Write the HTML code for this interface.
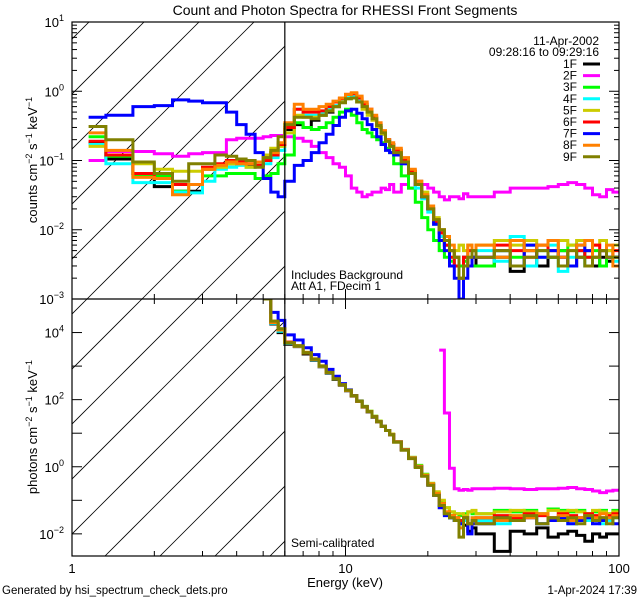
<!DOCTYPE html>
<html><head><meta charset="utf-8"><style>
html,body{margin:0;padding:0;background:#fff;}
svg{display:block;font-family:"Liberation Sans",sans-serif;}
</style></head><body>
<svg id="chart" width="640" height="600" viewBox="0 0 640 600" xmlns="http://www.w3.org/2000/svg">
<defs>
<clipPath id="clipTop"><rect x="72" y="22" width="547" height="277"/></clipPath>
<clipPath id="clipBot"><rect x="72" y="299" width="547" height="257"/></clipPath>
<clipPath id="hatchTop"><rect x="72" y="22" width="213" height="277"/></clipPath>
<clipPath id="hatchBot"><rect x="72" y="299" width="213" height="257"/></clipPath>
</defs>
<text x="345" y="15" text-anchor="middle" font-size="14">Count and Photon Spectra for RHESSI Front Segments</text>
<g id="layer"></g>
<text x="345" y="587" text-anchor="middle" font-size="13">Energy (keV)</text>
<text x="2" y="594" font-size="11.5">Generated by hsi_spectrum_check_dets.pro</text>
<text x="637" y="594" text-anchor="end" font-size="11.5">1-Apr-2024 17:39</text>
<text transform="translate(37,160) rotate(-90)" text-anchor="middle" font-size="13">counts cm<tspan dy="-5" font-size="9">−2</tspan><tspan dy="5"> s</tspan><tspan dy="-5" font-size="9">−1</tspan><tspan dy="5"> keV</tspan><tspan dy="-5" font-size="9">−1</tspan></text>
<text transform="translate(37,427) rotate(-90)" text-anchor="middle" font-size="13">photons cm<tspan dy="-5" font-size="9">−2</tspan><tspan dy="5"> s</tspan><tspan dy="-5" font-size="9">−1</tspan><tspan dy="5"> keV</tspan><tspan dy="-5" font-size="9">−1</tspan></text>
<text x="599" y="45" text-anchor="end" font-size="12">11-Apr-2002</text>
<text x="599" y="56" text-anchor="end" font-size="12">09:28:16 to 09:29:16</text>
<text x="291" y="279" font-size="12">Includes Background</text>
<text x="291" y="290" font-size="12">Att A1, FDecim 1</text>
<text x="291" y="547" font-size="12">Semi-calibrated</text>
</svg>
<script>
// ---- data ----
const energyEdges = [1.15,1.33,1.67,2,2.33,2.67,3,3.33,3.67,4,4.33,4.67,5,5.33,5.67,6,
 6.5,7,7.5,8,8.5,9,9.5,10,10.5,11,11.5,12,12.5,13,13.5,14,14.5,15,
 16,17,18,19,20,21,22,23,24,25,26,27,28,29,30,
 35,40,45,50,55,60,65,70,75,80,85,90,95,100];
const detectorNames = ["1F","2F","3F","4F","5F","6F","7F","8F","9F"];
const detectorColors = ["#000000","#ff00ff","#00ff00","#00ffff","#cccc00","#ff0000","#0000ff","#ff8000","#808000"];
const countsLow = [
 [.18,.105,.065,.042,.036,.036,.075,.085,.09,.088,.085,.085,.1,.13,.17],
 [.1,.135,.135,.125,.115,.125,.13,.13,.2,.21,.21,.21,.22,.23,.23],
 [.22,.115,.06,.06,.036,.045,.06,.06,.065,.065,.065,.055,.06,.065,.09],
 [.17,.09,.048,.048,.035,.034,.05,.075,.08,.085,.08,.082,.09,.11,.14],
 [.16,.12,.09,.075,.07,.07,.075,.08,.09,.09,.08,.085,.12,.15,.16],
 [.19,.12,.065,.055,.045,.045,.08,.09,.1,.095,.09,.085,.1,.12,.17],
 [.42,.45,.6,.62,.75,.72,.68,.68,.5,.33,.24,.13,.055,.035,.03],
 [.25,.14,.057,.055,.032,.045,.075,.085,.095,.09,.09,.095,.11,.13,.18],
 [.31,.2,.095,.065,.05,.09,.09,.12,.115,.105,.1,.08,.11,.14,.22]];
const countsMid = [
 [.28,.33,.3,.38,.45,.5,.6,.7,.8,.8,.7,.6,.5,.4,.3,.25,.2,.17],
 [.22,.21,.19,.16,.13,.11,.09,.08,.06,.04,.035,.03,.032,.035,.035,.04,.038,.045],
 [.12,.35,.3,.28,.3,.35,.42,.5,.55,.45,.35,.28,.25,.22,.2,.18,.15,.13],
 [.25,.55,.45,.45,.5,.55,.62,.72,.82,.85,.75,.62,.5,.4,.3,.24,.19,.16],
 [.25,.45,.42,.42,.45,.52,.6,.7,.78,.8,.7,.55,.45,.38,.3,.24,.19,.17],
 [.3,.55,.5,.5,.52,.6,.7,.78,.9,.92,.8,.65,.55,.42,.33,.26,.2,.17],
 [.05,.085,.1,.13,.18,.24,.32,.42,.52,.55,.48,.4,.33,.28,.22,.17,.14,.13],
 [.35,.65,.55,.55,.6,.65,.72,.8,.9,.95,.85,.7,.55,.45,.35,.27,.2,.18],
 [.33,.42,.42,.4,.45,.52,.6,.68,.78,.8,.7,.6,.5,.4,.32,.25,.19,.16]];
const countsHigh = [
 [.14,.1,.07,.045,.03,.02,.013,.009,.006,.005,.004,.003,.004,.003,.004],
 [.035,.045,.04,.05,.045,.04,.035,.03,.027,.03,.03,.028,.033,.03,.03],
 [.09,.06,.04,.025,.015,.01,.007,.005,.004,.0035,.003,.003,.0035,.003,.003],
 [.13,.09,.065,.04,.028,.018,.012,.008,.006,.004,.003,.002,.003,.004,.005],
 [.14,.1,.07,.05,.035,.022,.015,.01,.007,.005,.005,.006,.005,.006,.005],
 [.14,.1,.07,.045,.03,.02,.013,.009,.006,.004,.003,.002,.004,.005,.004],
 [.12,.09,.065,.045,.03,.02,.012,.007,.005,.003,.002,.001,.002,.003,.004],
 [.15,.11,.075,.05,.032,.022,.014,.01,.008,.006,.004,.002,.003,.006,.005],
 [.13,.095,.065,.045,.03,.02,.014,.01,.007,.005,.004,.002,.003,.004,.005]];
const countsTail = [
 [.003,.004,.0025,.005,.003,.004,.005,.003,.004,.005,.003,.004,.0035,.004],
 [.03,.035,.04,.04,.04,.042,.045,.048,.045,.04,.032,.03,.038,.035],
 [.003,.005,.004,.006,.005,.004,.005,.006,.005,.004,.005,.003,.005,.004],
 [.005,.0035,.008,.003,.004,.006,.0025,.004,.005,.003,.004,.005,.004,.0035],
 [.006,.007,.006,.007,.006,.005,.007,.006,.007,.005,.006,.007,.005,.006],
 [.004,.006,.005,.004,.006,.005,.004,.003,.005,.004,.006,.005,.004,.005],
 [.004,.005,.003,.006,.004,.005,.004,.003,.006,.005,.004,.005,.004,.004],
 [.006,.004,.007,.005,.006,.007,.004,.005,.006,.007,.004,.005,.006,.003],
 [.004,.005,.003,.004,.005,.004,.003,.005,.004,.003,.004,.005,.004,.004]];
// photon spectra start at 5 keV (edge index 12)
const photonsLow = [
 [1e5,1.8e4,1e4,4500,3800,2300,1500,950,620,400,270,185,128,88,60,43,30,22,16,12,9],
 [null,null,null,null,null,null,null,null,null,null,null,null,null,null,null,null,null,null,null,null,null],
 [1e5,2e4,1.2e4,5000,4000,2500,1600,1000,650,420,280,190,130,92,63,45,32,23,16,12,9],
 [1e5,1.9e4,1.1e4,4800,3900,2450,1550,980,640,410,275,190,130,90,62,44,31,22,16,12,9],
 [1e5,2.2e4,1.3e4,5200,4100,2600,1650,1020,660,425,285,192,132,91,63,45,32,23,16,12,9.5],
 [1e5,2e4,1.2e4,5200,4000,2500,1600,1000,650,420,280,190,130,90,62,44,31,22,16,12,9],
 [1e5,4e4,2.3e4,8500,6000,3500,2200,1400,800,500,300,195,130,90,62,44,31,22,16,12,9],
 [1e5,2e4,1.2e4,5000,3900,2450,1580,990,645,415,278,188,129,89,61,44,31,22,16,12,9],
 [1e5,2.2e4,1.3e4,5000,4000,2500,1600,1000,650,420,280,190,130,90,62,44,31,22,16,12,9]];
const photonsHigh = [
 [5.5,3.2,1.8,1.0,.55,.3,.15,.07,.04,.03,.025,.02,.018,.012,.015],
 [null,null,null,null,null,null,null,3000,40,.9,.22,.2,.21,.2,.22],
 [5.5,3.3,1.9,1.1,.6,.32,.17,.09,.06,.045,.04,.035,.04,.045,.04],
 [5.5,3.2,1.8,1.0,.55,.3,.15,.07,.04,.03,.025,.02,.025,.02,.03],
 [5.6,3.3,1.9,1.05,.58,.32,.18,.1,.06,.045,.04,.04,.035,.045,.05],
 [5.5,3.2,1.8,1.0,.55,.3,.15,.08,.045,.035,.03,.025,.03,.02,.025],
 [5.5,3.2,1.8,1.0,.55,.28,.14,.06,.035,.03,.025,.02,.03,.01,.02],
 [5.5,3.2,1.8,1.0,.55,.3,.16,.08,.045,.035,.03,.015,.03,.02,.03],
 [5.4,3.1,1.75,.95,.52,.28,.14,.07,.04,.03,.025,.008,.03,.02,.025]];
const photonsTail = [
 [.01,.003,.012,.01,.015,.008,.01,.012,.009,.006,.01,.008,.01,.01],
 [.22,.23,.22,.21,.22,.22,.23,.24,.22,.21,.19,.17,.19,.2],
 [.04,.05,.045,.05,.04,.055,.05,.045,.05,.04,.045,.05,.04,.05],
 [.025,.02,.03,.035,.02,.03,.025,.02,.03,.025,.03,.02,.025,.03],
 [.04,.045,.05,.045,.04,.05,.045,.05,.045,.04,.05,.045,.04,.045],
 [.03,.035,.03,.04,.035,.03,.04,.035,.03,.04,.035,.03,.035,.04],
 [.02,.03,.025,.03,.02,.025,.03,.02,.025,.03,.02,.025,.03,.02],
 [.03,.025,.035,.03,.04,.03,.035,.025,.03,.035,.03,.04,.03,.035],
 [.02,.03,.025,.035,.02,.03,.025,.03,.02,.035,.025,.03,.02,.03]];

// ---- axes ----
const NS = "http://www.w3.org/2000/svg";
const X0 = 72, X1 = 619;
const xScale = e => X0 + (Math.log10(e) - 0) / 2 * (X1 - X0);
const topY = v => 22 + (1 - Math.log10(v)) / 4 * (299 - 22);
const botTopLog = 5.0, botBotLog = -2.66;
const botY = v => 299 + (botTopLog - Math.log10(v)) / (botTopLog - botBotLog) * (556 - 299);
const layer = document.getElementById('layer');
function mk(tag, attrs, parent) {
  const el = document.createElementNS(NS, tag);
  for (const k in attrs) el.setAttribute(k, attrs[k]);
  (parent || layer).appendChild(el);
  return el;
}

// hatching
[["hatchTop",22,299],["hatchBot",299,556]].forEach(([cid,y0,y1])=>{
  const g = mk('g',{'clip-path':`url(#${cid})`});
  
  
  for (let c = -400; c < 900; c += 55) {
    const l = mk('line',{x1:c+159-600, y1:22+600, x2:c+159+600, y2:22-600, stroke:'#000','stroke-width':0.8}, g);
    
    
  }
});

function stepPath(edges, vals, yf, ymin, ymax) {
  let d = "", pen = false;
  for (let i = 0; i < vals.length; i++) {
    const v = vals[i];
    if (v === null || v === undefined) { pen = false; continue; }
    let y = yf(v); y = Math.max(ymin - 5, Math.min(ymax + 5, y));
    const xa = xScale(edges[i]), xb = xScale(edges[i+1]);
    d += (pen ? "L" : "M") + xa.toFixed(1) + "," + y.toFixed(1) + "L" + xb.toFixed(1) + "," + y.toFixed(1);
    pen = true;
  }
  return d;
}
const gTop = mk('g',{'clip-path':'url(#clipTop)'});


const gBot = mk('g',{'clip-path':'url(#clipBot)'});


const photonEdges = energyEdges.slice(12);
for (let s = 0; s < 9; s++) {
  const cv = countsLow[s].concat(countsMid[s], countsHigh[s], countsTail[s]);
  const p = mk('path',{d:stepPath(energyEdges, cv, topY, 22, 299), fill:'none', stroke:detectorColors[s], 'stroke-width':3, 'stroke-linejoin':'miter'}, gTop);
  
  
  const pv = photonsLow[s].concat(photonsHigh[s], photonsTail[s]);
  const q = mk('path',{d:stepPath(photonEdges, pv, botY, 299, 556), fill:'none', stroke:detectorColors[s], 'stroke-width':3}, gBot);
  
  
}

// frames
const fr = mk('rect',{x:72,y:22,width:547,height:534,fill:'none',stroke:'#000','stroke-width':1.2});


const dv = mk('line',{x1:72,y1:299,x2:619,y2:299,stroke:'#000','stroke-width':1.2});


const vl = mk('line',{x1:xScale(6),y1:22,x2:xScale(6),y2:556,stroke:'#000','stroke-width':1.2});



// x ticks
for (let dec = 0; dec < 2; dec++) for (let m = 1; m <= 9; m++) {
  const x = xScale(m * Math.pow(10, dec)); const len = m === 1 ? 10 : 5;
  [[299,-1],[299,1],[556,-1]].forEach(([y,dir])=>{
    const t = mk('line',{x1:x,y1:y,x2:x,y2:y+dir*len,stroke:'#000','stroke-width':1});
    
    
  });
}
const xTickLabels = ["1","10","100"];
xTickLabels.forEach((lab,i)=>{
  const t = mk('text',{x:xScale(Math.pow(10,i)), y:573, 'text-anchor':'middle','font-size':13});
  t.textContent = lab;
  
  
});
// top y ticks
for (let p = -3; p <= 0; p++) for (let m = 1; m <= 9; m++) {
  const y = topY(m * Math.pow(10,p)); const len = m === 1 ? 10 : 5;
  [[72,1],[619,-1]].forEach(([x,dir])=>{
    const t = mk('line',{x1:x,y1:y,x2:x+dir*len,y2:y,stroke:'#000','stroke-width':1});
    
    
  });
}
const topTickExps = ["1","0","−1","−2","−3"];
topTickExps.forEach((e,i)=>{
  const t = mk('text',{x:64, y:topY(Math.pow(10,1-i))+5, 'text-anchor':'end','font-size':13});
  t.innerHTML = '10<tspan dy="-6" font-size="9">' + e + '</tspan>';
  
  
});
// bottom y ticks
for (let p = -2; p <= 4; p++) {
  const y = botY(Math.pow(10,p));
  [[72,1],[619,-1]].forEach(([x,dir])=>{
    const t = mk('line',{x1:x,y1:y,x2:x+dir*10,y2:y,stroke:'#000','stroke-width':1});
    
    
  });
}
const botTickExps = ["4","2","0","−2"];
botTickExps.forEach((e,i)=>{
  const t = mk('text',{x:64, y:botY(Math.pow(10,4-2*i))+5, 'text-anchor':'end','font-size':13});
  t.innerHTML = '10<tspan dy="-6" font-size="9">' + e + '</tspan>';
  
  
});
// legend
detectorNames.forEach((n,i)=>{
  const y = 64 + i * 11.6;
  const t = mk('text',{x:577, y:y+4, 'text-anchor':'end','font-size':12});
  t.textContent = n;
  
  
  const l = mk('line',{x1:583,y1:y,x2:600,y2:y,stroke:detectorColors[i],'stroke-width':3});
  
  
});
</script>
</body></html>
